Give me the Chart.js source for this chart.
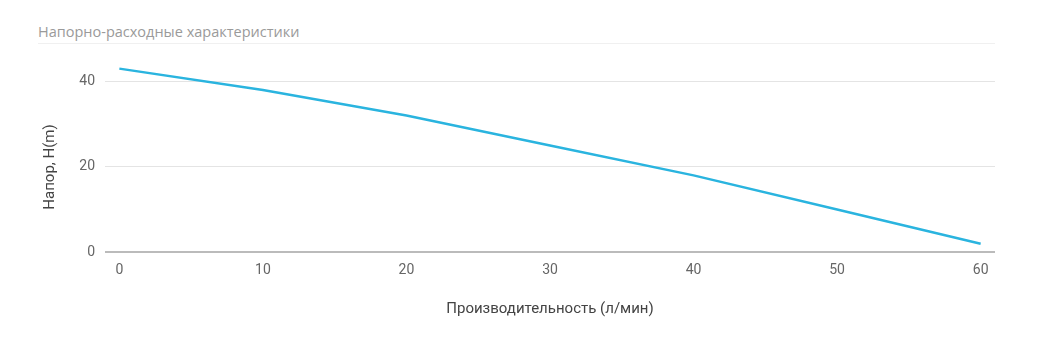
<!DOCTYPE html>
<html><head><meta charset="utf-8">
<script src="https://cdn.jsdelivr.net/npm/chart.js@4"></script>
<style>
html,body{margin:0;padding:0;background:#fff;}
#wrap{position:relative;width:1057px;height:346px;}
#title{position:absolute;left:38px;top:22px;width:957px;font-family:"Open Sans",sans-serif;font-size:14.5px;color:#9a9a9a;border-bottom:1px solid #f0f0f0;padding-bottom:2px;line-height:19px;}
canvas{position:absolute;left:0;top:0;}
</style></head>
<body><div id="wrap"><div id="title">Напорно-расходные характеристики</div><canvas id="c" width="1057" height="346"></canvas></div>
<script>
const flow = [0, 10, 20, 30, 40, 50, 60];
const head = [43, 38, 32, 25, 18, 10, 2];
const xTicks = [0, 10, 20, 30, 40, 50, 60];
const yTicks = [0, 20, 40];
const xTitle = "Производительность (л/мин)";
const yTitle = "Напор, H(m)";

Chart.defaults.font.family = "Roboto, sans-serif";
Chart.defaults.font.size = 14;
Chart.defaults.color = "#666";

const yTitlePlugin = {
  id: 'yTitle',
  afterDraw(chart) {
    const ctx = chart.ctx;
    ctx.save();
    ctx.translate(50, 167);
    ctx.rotate(-Math.PI / 2);
    ctx.font = '15px Roboto, sans-serif';
    ctx.fillStyle = '#444';
    ctx.textAlign = 'center';
    ctx.textBaseline = 'middle';
    ctx.fillText(yTitle, 0, 0);
    ctx.restore();
  }
};

new Chart(document.getElementById('c'), {
  type: 'line',
  data: {
    datasets: [{
      data: flow.map((x, i) => ({x: x, y: head[i]})),
      borderColor: '#2ab4df',
      borderWidth: 2.5,
      pointRadius: 0,
      tension: 0,
      fill: false
    }]
  },
  options: {
    responsive: false,
    animation: false,
    layout: {padding: {left: 41, right: 62, top: 43, bottom: 28}},
    plugins: {legend: {display: false}, tooltip: {enabled: false}},
    scales: {
      x: {
        type: 'linear', min: -1, max: 61,
        afterBuildTicks: s => { s.ticks = xTicks.map(v => ({value: v})); },
        grid: {display: false, drawTicks: false},
        border: {display: false},
        ticks: {padding: 10, color: '#666', maxRotation: 0},
        title: {display: true, text: xTitle, color: '#444', font: {size: 15}, padding: {top: 11, bottom: 0}}
      },
      y: {
        type: 'linear', min: 0, max: 49,
        afterBuildTicks: s => { s.ticks = yTicks.map(v => ({value: v})); },
        afterFit: s => { s.width = 64; },
        grid: {color: ctx => ctx.tick && ctx.tick.value === 0 ? '#bbbbbb' : '#e4e4e4', lineWidth: ctx => ctx.tick && ctx.tick.value === 0 ? 2 : 1, drawTicks: false},
        border: {display: false},
        ticks: {padding: 10, color: '#666'},
        title: {display: false}
      }
    }
  },
  plugins: [yTitlePlugin]
});
</script></body></html>
